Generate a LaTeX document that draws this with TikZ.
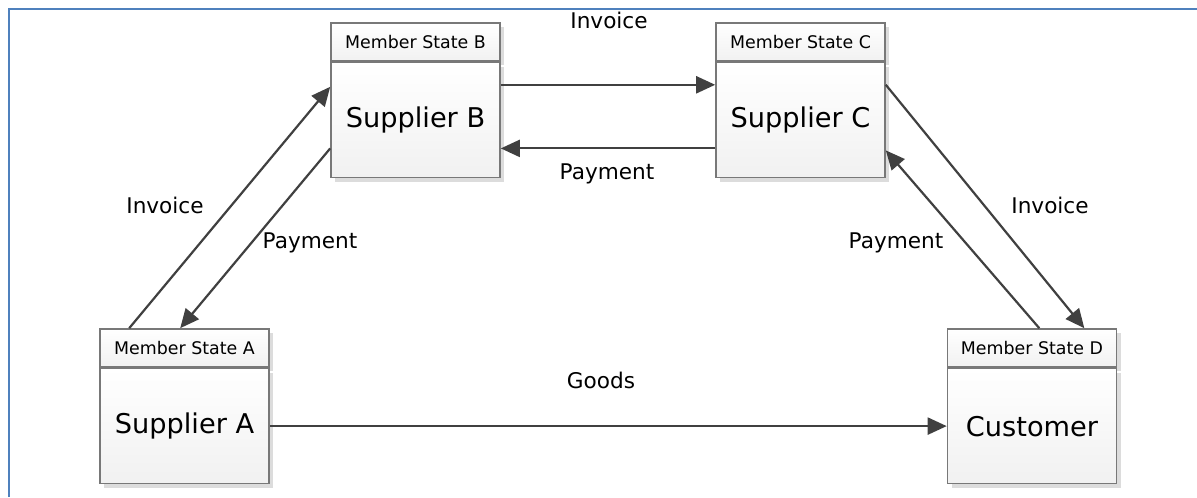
\documentclass[tikz,border=0pt]{standalone}
\usepackage{fontspec}
\setmainfont{DejaVu Sans}
\usetikzlibrary{positioning,calc,arrows.meta,shadows}

\definecolor{frameblue}{HTML}{4F81BD}
\definecolor{boxgray}{HTML}{787878}
\definecolor{arrowgray}{HTML}{404040}
\definecolor{shadowgray}{HTML}{DCDCDC}

\begin{document}
\begin{tikzpicture}[x=0.5pt, y=-0.5pt,
		box/.style={draw=boxgray, line width=0.8pt, minimum width=84.5pt, inner sep=0pt,
			top color=white, bottom color=gray!11,
			drop shadow={shadow xshift=2pt, shadow yshift=-2pt, fill=shadowgray, opacity=1}},
		head/.style={box, minimum height=19pt, font=\fontsize{8.7}{10}\selectfont},
		body/.style={box, minimum height=57.5pt, font=\fontsize{13.6}{16}\selectfont},
		flow/.style={draw=arrowgray, line width=1.1pt, -{Triangle[length=9.5pt, width=8.5pt]}},
		lbl/.style={font=\fontsize{10.8}{13}\selectfont}]
		\useasboundingbox (0,0) rectangle (1197,497);
		\draw[frameblue, line width=1.3pt] (9,497) -- (9,9) -- (1197,9);

		% the four member states
		\node[head] (msA) at (184.5,348) {Member State A};
		\node[body, below=0pt of msA] (supA) {Supplier A};

		\node[head] (msB) at (415.5,42) {Member State B};
		\node[body, below=0pt of msB] (supB) {Supplier B};

		\node[head] (msC) at (800.5,42) {Member State C};
		\node[body, below=0pt of msC] (supC) {Supplier C};

		\node[head] (msD) at (1032,348) {Member State D};
		\node[body, below=0pt of msD] (cust) {Customer};

		% invoices and payments
		\draw[flow] ($(msA.north west)+(30,0)$) -- ($(supB.north west)+(0,25)$);
		\draw[flow] ($(supB.south west)+(0,-30)$) -- ($(msA.north west)+(81,0)$);
		\draw[flow] ($(supB.north east)+(0,23)$) -- ($(supC.north west)+(0,23)$);
		\draw[flow] ($(supC.south west)+(0,-30)$) -- ($(supB.south east)+(0,-30)$);
		\draw[flow] ($(supC.north east)+(0,23)$) -- ($(msD.north east)+(-33,0)$);
		\draw[flow] ($(msD.north east)+(-78,0)$) -- ($(supC.south east)+(0,-28)$);
		\draw[flow] (supA) -- (cust);

		\node[lbl] (invAB) at (165,205) {Invoice};
		\node[lbl] (payBA) at (310,243) {Payment};
		\node[lbl] (invBC) at (609,20) {Invoice};
		\node[lbl] (payCB) at (607,174) {Payment};
		\node[lbl] (invCD) at (1050,205) {Invoice};
		\node[lbl] (payDC) at (896,243) {Payment};
		\node[lbl] (goods) at (601,380) {Goods};
	\end{tikzpicture}
\end{document}
